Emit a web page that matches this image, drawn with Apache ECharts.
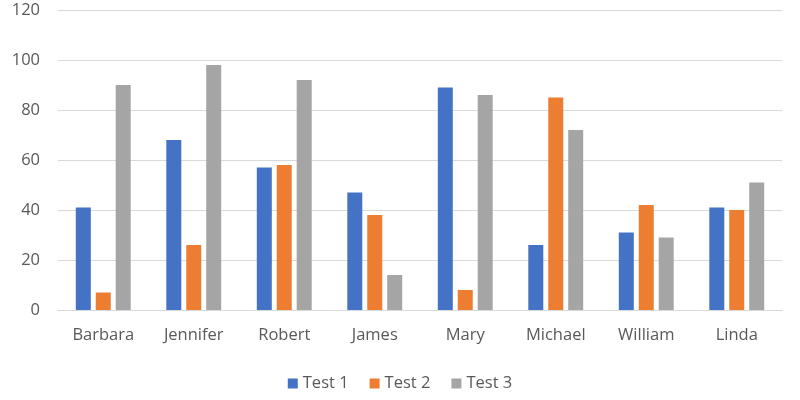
<!DOCTYPE html>
<html>
<head>
<meta charset="utf-8">
<script src="https://cdn.jsdelivr.net/npm/echarts@6/dist/echarts.min.js"></script>
<style>html,body{margin:0;padding:0;background:#fff}#c{width:800px;height:400px}</style>
</head>
<body>
<div id="c"></div>
<script>
const categories = ['Barbara','Jennifer','Robert','James','Mary','Michael','William','Linda'];
const test1 = [41, 68, 57, 47, 89, 26, 31, 41];
const test2 = [7, 26, 58, 38, 8, 85, 42, 40];
const test3 = [90, 98, 92, 14, 86, 72, 29, 51];
const seriesNames = ['Test 1','Test 2','Test 3'];
const colors = ['#4472C4','#ED7D31','#A5A5A5'];

const chart = echarts.init(document.getElementById('c'));
const font = 'Open Sans';
chart.setOption({
  animation: false,
  color: colors,
  grid: {left: 58, right: 18, top: 10, bottom: 90},
  legend: {
    top: 370, left: 'center',
    itemWidth: 10, itemHeight: 10, itemGap: 21,
    icon: 'rect',
    textStyle: {color: '#595959', fontSize: 16.5, fontFamily: font},
    data: seriesNames
  },
  xAxis: {
    type: 'category', data: categories,
    axisLine: {lineStyle: {color: '#d9d9d9'}},
    axisTick: {show: false},
    axisLabel: {color: '#595959', fontSize: 16.5, fontFamily: font, margin: 17}
  },
  yAxis: {
    type: 'value', min: 0, max: 120, interval: 20,
    axisLine: {show: false}, axisTick: {show: false},
    splitLine: {lineStyle: {color: '#d9d9d9'}},
    axisLabel: {color: '#595959', fontSize: 16.5, fontFamily: font, margin: 18}
  },
  series: [
    {name: seriesNames[0], type: 'bar', data: test1, barWidth: 15, barGap: '33%'},
    {name: seriesNames[1], type: 'bar', data: test2, barWidth: 15, barGap: '33%'},
    {name: seriesNames[2], type: 'bar', data: test3, barWidth: 15, barGap: '33%'}
  ]
});
</script>
</body>
</html>
